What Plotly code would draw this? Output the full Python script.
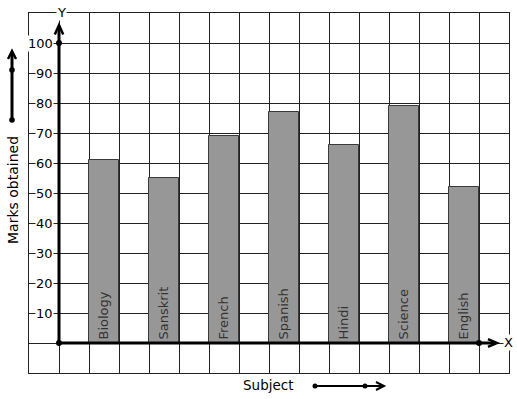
import plotly.graph_objects as go

subjects = ["Biology", "Sanskrit", "French", "Spanish", "Hindi", "Science", "English"]
marks = [61, 55, 69, 77, 66, 79, 52]
y_ticks = [10, 20, 30, 40, 50, 60, 70, 80, 90, 100]

W, H = 517, 399
L, R, T, B = 29, 8, 13, 26
PW, PH = W - L - R, H - T - B

def px(xp):
    return (xp - L) / PW

def py(yp):
    return (H - B - yp) / PH

xpos = [1.5 + 2 * i for i in range(len(subjects))]

fig = go.Figure()
fig.add_trace(go.Bar(
    x=xpos, y=marks, width=1,
    marker=dict(color="#979797", line=dict(color="#3a3a3a", width=1)),
    text=subjects, textposition="inside", insidetextanchor="start",
    textangle=-90, textfont=dict(family="DejaVu Sans", size=13, color="#333333"),
    hoverinfo="skip",
))

# axis dots
fig.add_trace(go.Scatter(
    x=[0, 0, 14.0], y=[0, 100, 0], mode="markers",
    marker=dict(color="black", size=6), cliponaxis=False, hoverinfo="skip",
))

shapes = []
blk = dict(color="black", width=3)
# y axis
shapes.append(dict(type="line", xref="x", yref="y", x0=0, y0=0, x1=0, y1=105.5, line=blk, layer="above"))
shapes.append(dict(type="path", xref="x", yref="y", path="M -0.14,102.8 L 0,106 L 0.14,102.8", line=dict(color="black", width=2.5), layer="above"))
# x axis
shapes.append(dict(type="line", xref="x", yref="y", x0=0, y0=0, x1=14.55, y1=0, line=blk, layer="above"))
shapes.append(dict(type="path", xref="x", yref="y", path="M 14.3,1.3 L 14.6,0 L 14.3,-1.3", line=dict(color="black", width=2.5), layer="above"))

# left decorative arrow
shapes.append(dict(type="line", xref="paper", yref="paper", x0=px(12), y0=py(120), x1=px(12), y1=py(52), line=blk))
shapes.append(dict(type="path", xref="paper", yref="paper",
                   path=f"M {px(8)},{py(59)} L {px(12)},{py(51)} L {px(16)},{py(59)}",
                   line=dict(color="black", width=2.5)))
# bottom decorative arrow
shapes.append(dict(type="line", xref="paper", yref="paper", x0=px(315), y0=py(386), x1=px(383), y1=py(386), line=dict(color="black", width=2)))
shapes.append(dict(type="path", xref="paper", yref="paper",
                   path=f"M {px(376)},{py(382)} L {px(384)},{py(386)} L {px(376)},{py(390)}",
                   line=dict(color="black", width=2)))

# decorative dots (pixel centres)
for (cx, cy, r) in [(12, 120, 2.8), (12, 70, 2.8), (315, 386, 2.5), (365, 386, 2.5)]:
    shapes.append(dict(type="circle", xref="paper", yref="paper",
                       x0=px(cx - r), x1=px(cx + r), y0=py(cy + r), y1=py(cy - r),
                       fillcolor="black", line=dict(color="black", width=0)))

annotations = []
for v in y_ticks:
    annotations.append(dict(x=0, y=v, xref="x", yref="y", text=str(v), showarrow=False,
                            xanchor="right", xshift=-5, bgcolor="white", borderpad=0,
                            font=dict(family="DejaVu Sans", size=13, color="black")))
annotations.append(dict(x=0, y=110, xref="x", yref="y", text="Y", showarrow=False,
                        xanchor="center", yanchor="middle", xshift=2, yshift=1, bgcolor="white", borderpad=0,
                        font=dict(family="DejaVu Sans", size=13, color="black")))
annotations.append(dict(x=px(508), y=py(342), xref="paper", yref="paper", text="X", showarrow=False,
                        xanchor="center", yanchor="middle", bgcolor="white", borderpad=0,
                        font=dict(family="DejaVu Sans", size=13, color="black")))
annotations.append(dict(x=px(13), y=py(190), xref="paper", yref="paper", text="Marks obtained",
                        showarrow=False, textangle=-90, xanchor="center", yanchor="middle",
                        font=dict(family="DejaVu Sans", size=14, color="black")))
annotations.append(dict(x=px(268), y=py(385), xref="paper", yref="paper", text="Subject",
                        showarrow=False, xanchor="center", yanchor="middle",
                        font=dict(family="DejaVu Sans", size=13.5, color="black")))

grid = "#222222"
fig.update_layout(
    width=W, height=H,
    margin=dict(l=L, r=R, t=T, b=B, pad=0),
    paper_bgcolor="white", plot_bgcolor="white",
    showlegend=False,
    bargap=0,
    xaxis=dict(range=[-1, 15], tick0=-1, dtick=1, showticklabels=False, ticks="",
               showgrid=True, gridcolor=grid, gridwidth=1, zeroline=False,
               showline=True, mirror=True, linecolor=grid, linewidth=1, fixedrange=True),
    yaxis=dict(range=[-10, 110], tick0=-10, dtick=10, showticklabels=False, ticks="",
               showgrid=True, gridcolor=grid, gridwidth=1, zeroline=False,
               showline=True, mirror=True, linecolor=grid, linewidth=1, fixedrange=True),
    shapes=shapes,
    annotations=annotations,
)

fig.write_html("out.html")
